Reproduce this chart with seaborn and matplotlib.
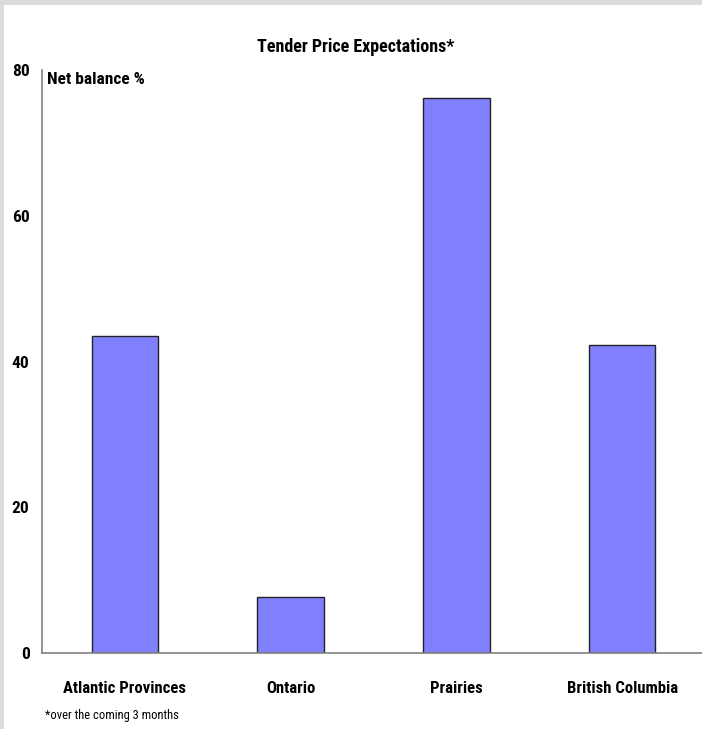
import matplotlib
matplotlib.use("Agg")
import matplotlib.pyplot as plt
from matplotlib.patches import Rectangle
from matplotlib import font_manager
import seaborn as sns
import pandas as pd

regions = ["Atlantic Provinces", "Ontario", "Prairies", "British Columbia"]
net_balance = [43.5, 7.7, 76.1, 42.2]
y_ticks = [0, 20, 40, 60, 80]

sns.set_style("white")
names = {f.name for f in font_manager.fontManager.ttflist}
narrow = [n for n in ("Liberation Sans Narrow", "Roboto Condensed", "Open Sans Condensed",
                      "Arial Narrow") if n in names]
family = narrow[0] if narrow else "DejaVu Sans"
plt.rcParams["font.family"] = [family, "DejaVu Sans"]
plt.rcParams["font.stretch"] = "condensed"
plt.rcParams["text.color"] = "black"
plt.rcParams["xtick.color"] = "black"
plt.rcParams["ytick.color"] = "black"

W, H = 702, 729
fig = plt.figure(figsize=(W / 100, H / 100), dpi=100)
fig.patch.set_facecolor("white")

# light grey frame on the top and left edges
fig.patches.append(Rectangle((0, 1 - 5 / H), 1, 5 / H, transform=fig.transFigure,
                             facecolor="#dcdcdc", edgecolor="none", zorder=0))
fig.patches.append(Rectangle((0, 0), 4 / W, 1, transform=fig.transFigure,
                             facecolor="#dcdcdc", edgecolor="none", zorder=0))

x0, y0_px, ytop = 42, 653, 70
ax = fig.add_axes([x0 / W, (H - y0_px) / H, (W - x0) / W, (y0_px - ytop) / H])
ax.set_facecolor("white")

df = pd.DataFrame({"region": regions, "value": net_balance})
sns.barplot(data=df, x="region", y="value", ax=ax, color="#8080ff",
            saturation=1, width=0.4, edgecolor="#222222", linewidth=1.0)

ax.set_ylim(0, 80)
ax.set_xlim(-0.5, 3.5 - 3 / 165.5)
ax.set_yticks(y_ticks)
ax.set_yticklabels([str(t) for t in y_ticks], fontsize=12.5, fontweight="bold")
ax.set_xticks(range(len(regions)))
ax.set_xticklabels(regions, fontsize=12, fontweight="bold")
ax.tick_params(axis="both", length=0)
ax.tick_params(axis="y", pad=9)
ax.tick_params(axis="x", pad=20)
ax.set_xlabel("")
ax.set_ylabel("")

for side in ("top", "right"):
    ax.spines[side].set_visible(False)
for side in ("left", "bottom"):
    ax.spines[side].set_color("#808080")
    ax.spines[side].set_linewidth(1.2)

fig.text(356 / W, 1 - 47 / H, "Tender Price Expectations*", ha="center", va="center",
         fontsize=13, fontweight="bold")
fig.text(47 / W, 1 - 79 / H, "Net balance %", ha="left", va="center",
         fontsize=12.5, fontweight="bold")
fig.text(45 / W, 1 - 716 / H, "*over the coming 3 months", ha="left", va="center",
         fontsize=9)

fig.savefig("out.png", dpi=100, facecolor="white")
